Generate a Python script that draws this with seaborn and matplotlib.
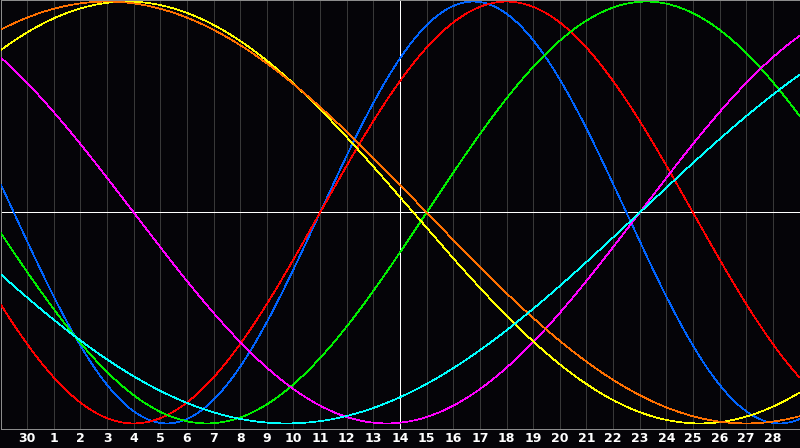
import numpy as np
import pandas as pd
import seaborn as sns
from matplotlib import pyplot as plt

# biorhythm cycles: cycle length (days) and colour
cycle_names = ["physical", "emotional", "intellectual", "intuitive", "aesthetic", "awareness", "spiritual"]
cycle_days = [23, 28, 33, 38, 43, 48, 53]
cycle_colors = ["#0064ff", "#ff0000", "#00f000", "#ff00ff", "#ffff00", "#ff7000", "#00ffff"]

# days lived at the left edge of the chart
start_day = 16088

# day labels under the gridlines
day_labels = ["30"] + [str(d) for d in range(1, 29)]
today_index = 15  # the "14" column gets the white marker line

bg = "#050408"
px = 0.72  # one pixel in points at 100 dpi

sns.set_theme(style="dark", rc={"axes.facecolor": bg, "figure.facecolor": bg})

t = np.linspace(0, 30, 801)
frames = []
for name, days in zip(cycle_names, cycle_days):
    frames.append(pd.DataFrame({
        "t": t,
        "value": np.sin(2 * np.pi * (start_day + t) / days),
        "cycle": name,
    }))
df = pd.concat(frames, ignore_index=True)

fig = plt.figure(figsize=(8, 4.48), dpi=100)
ax = fig.add_axes([0.5 / 800, 19.5 / 448, 799 / 800, 428 / 448])

for i in range(1, 30):
    if i == today_index:
        continue
    ax.axvline(i, color="#383838", lw=px, zorder=1, antialiased=False)

sns.lineplot(data=df, x="t", y="value", hue="cycle", palette=dict(zip(cycle_names, cycle_colors)),
             estimator=None, sort=False, lw=0.5, legend=False, ax=ax, zorder=3)
for line in ax.get_lines():
    line.set_antialiased(False)

ax.axvline(today_index, color="white", lw=px, zorder=2, antialiased=False)
ax.axhline(0, color="white", lw=px, zorder=2, antialiased=False)

ax.set_xlim(0, 30)
ax.set_ylim(-1.024, 1.005)
ax.set_xticks(range(1, 30))
ax.set_xticklabels(day_labels, color="white", fontweight="bold", fontsize=9, family="DejaVu Sans")
ax.set_yticks([])
ax.tick_params(axis="x", length=0, pad=2.5)
ax.set_xlabel("")
ax.set_ylabel("")
ax.grid(False)
for side in ["left", "right", "top", "bottom"]:
    ax.spines[side].set_visible(True)
    ax.spines[side].set_color("#8c8c8c")
    ax.spines[side].set_linewidth(px)

fig.savefig("out.png", dpi=100, facecolor=bg)
